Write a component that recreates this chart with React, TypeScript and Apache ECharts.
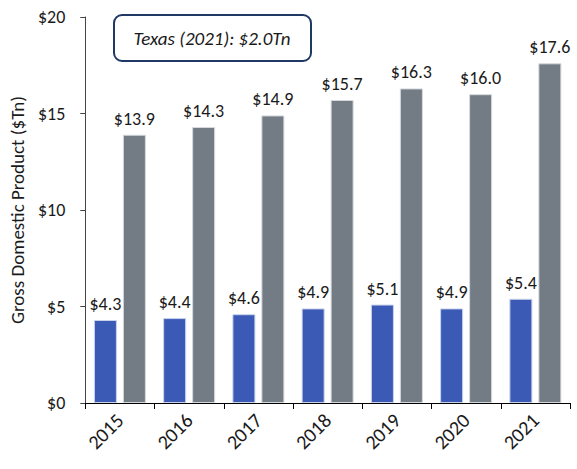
import React, { useEffect, useRef } from "react";
import * as echarts from "echarts";

const years = ["2015", "2016", "2017", "2018", "2019", "2020", "2021"];
const blueValues = [4.3, 4.4, 4.6, 4.9, 5.1, 4.9, 5.4];
const grayValues = [13.9, 14.3, 14.9, 15.7, 16.3, 16.0, 17.6];
const yTicks = { min: 0, max: 20, interval: 5 };
const annotation = "Texas (2021): $2.0Tn";

const FONT = "Carlito, Calibri, Lato, 'Liberation Sans', sans-serif";

export default function App() {
  const ref = useRef<HTMLDivElement>(null);
  useEffect(() => {
    const chart = echarts.init(ref.current!, null, { renderer: "svg" });
    const label = {
      show: true,
      position: "top" as const,
      distance: 7,
      color: "#1a1a1a",
      fontSize: 18,
      fontFamily: FONT,
      formatter: (p: any) => "$" + Number(p.value).toFixed(1),
    };
    chart.setOption({
      animation: false,
      grid: { left: 84, right: 7, top: 17, bottom: 66, containLabel: false },
      xAxis: {
        type: "category",
        data: years,
        axisLine: { lineStyle: { color: "#000", width: 1 } },
        axisTick: { show: true, alignWithLabel: false, length: 6, lineStyle: { color: "#000" } },
        axisLabel: { rotate: 45, color: "#1a1a1a", fontSize: 20, fontFamily: FONT, margin: 14 },
      },
      yAxis: {
        type: "value",
        min: yTicks.min,
        max: yTicks.max,
        interval: yTicks.interval,
        name: "Gross Domestic Product ($Tn)",
        nameLocation: "middle",
        nameGap: 58,
        nameTextStyle: { color: "#1a1a1a", fontSize: 19, fontFamily: FONT },
        axisLine: { show: true, lineStyle: { color: "#444", width: 1 } },
        axisTick: { show: true, length: 5, lineStyle: { color: "#444" } },
        splitLine: { show: false },
        axisLabel: { color: "#1a1a1a", fontSize: 18, fontFamily: FONT, margin: 20, formatter: (v: number) => "$" + v },
      },
      series: [
        {
          type: "bar",
          data: blueValues,
          barWidth: 23,
          barGap: "26%",
          itemStyle: { color: "#3a5ab6", borderColor: "#c9d3ec", borderWidth: 1 },
          label,
        },
        {
          type: "bar",
          data: grayValues,
          barWidth: 23,
          itemStyle: { color: "#737c84", borderColor: "#d5d9dd", borderWidth: 1 },
          label,
        },
      ],
      graphic: [
        {
          type: "rect",
          shape: { x: 114, y: 15, width: 197, height: 46, r: 8 },
          style: { fill: "#fff", stroke: "#1f3864", lineWidth: 2 },
        },
        {
          type: "text",
          x: 212,
          y: 38,
          style: {
            text: annotation,
            fill: "#1a1a1a",
            fontSize: 19,
            fontStyle: "italic",
            fontFamily: FONT,
            align: "center",
            verticalAlign: "middle",
          },
        },
      ],
    });
    return () => chart.dispose();
  }, []);
  return <div ref={ref} style={{ width: 577, height: 469, position: "absolute", left: 0, top: 0 }} />;
}
